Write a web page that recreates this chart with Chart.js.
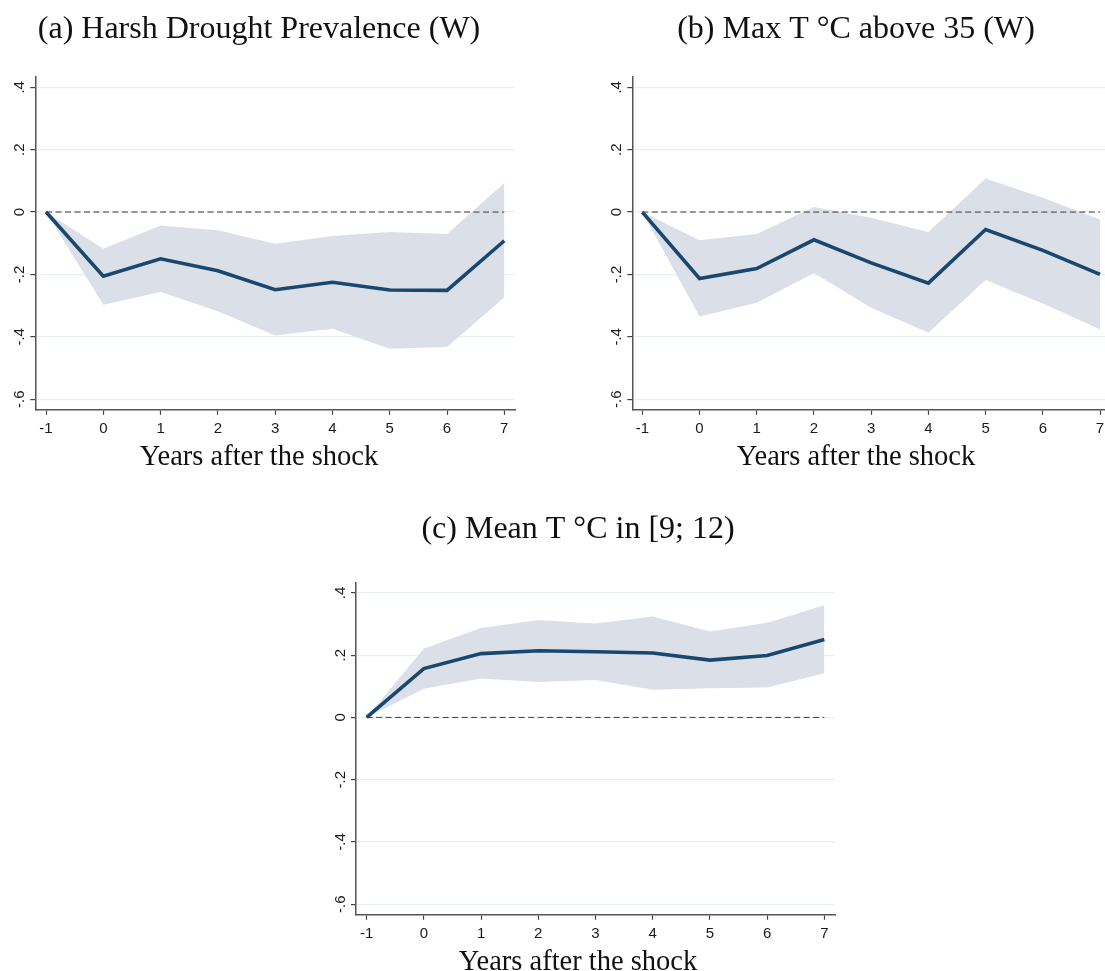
<!DOCTYPE html>
<html>
<head>
<meta charset="utf-8">
<script src="https://cdn.jsdelivr.net/npm/chart.js@4.4.1/dist/chart.umd.min.js"></script>
<style>
html, body { margin: 0; padding: 0; background: #ffffff; overflow: hidden; width: 1105px; height: 971px; }
canvas { position: absolute; }
</style>
</head>
<body>
<canvas id="panelA"></canvas>
<canvas id="panelB"></canvas>
<canvas id="panelC"></canvas>
<script>
// ---------------- data ----------------
const years = [-1, 0, 1, 2, 3, 4, 5, 6, 7];
const xTickLabels = ['-1', '0', '1', '2', '3', '4', '5', '6', '7'];
const yTickValues = [-0.6, -0.4, -0.2, 0, 0.2, 0.4];
const yTickLabels = ['-.6', '-.4', '-.2', '0', '.2', '.4'];
const xAxisTitle = 'Years after the shock';
const referenceLevel = 0;

const titleA = '(a) Harsh Drought Prevalence (W)';
const droughtCoef  = [0, -0.206, -0.150, -0.188, -0.249, -0.225, -0.250, -0.251, -0.092];
const droughtUpper = [0, -0.118, -0.043, -0.058, -0.102, -0.077, -0.064, -0.070,  0.093];
const droughtLower = [0, -0.297, -0.256, -0.318, -0.396, -0.374, -0.438, -0.433, -0.274];

const titleB = '(b) Max T \u00B0C above 35 (W)';
const heatCoef  = [0, -0.213, -0.181, -0.089, -0.163, -0.228, -0.056, -0.123, -0.200];
const heatUpper = [0, -0.090, -0.070,  0.016, -0.018, -0.064,  0.108,  0.046, -0.024];
const heatLower = [0, -0.335, -0.291, -0.195, -0.307, -0.387, -0.218, -0.293, -0.376];

const titleC = '(c) Mean T \u00B0C in [9; 12)';
const meanTCoef  = [0, 0.157, 0.205, 0.214, 0.211, 0.207, 0.184, 0.199, 0.250];
const meanTUpper = [0, 0.221, 0.287, 0.313, 0.302, 0.324, 0.276, 0.304, 0.360];
const meanTLower = [0, 0.092, 0.125, 0.114, 0.120, 0.089, 0.094, 0.096, 0.142];

// ---------------- styles ----------------
const NAVY = '#1a476f';
const BAND = '#dbe0e8';
const GRID = '#e8f0f1';
const AXIS = '#555555';
const TICKC = '#444444';
const TEXT = '#111111';
const SERIF = '"Liberation Serif", "Times New Roman", serif';
const SANS = '"Liberation Sans", Arial, sans-serif';

function pts(values) {
  return years.map((x, i) => ({ x: x, y: values[i] }));
}

function makePanel(id, lay, title, coef, upper, lower) {
  const cv = document.getElementById(id);
  cv.width = lay.w; cv.height = lay.h;
  cv.style.left = lay.left + 'px'; cv.style.top = lay.top + 'px';
  cv.style.width = lay.w + 'px'; cv.style.height = lay.h + 'px';
  return new Chart(cv, {
    type: 'line',
    data: {
      datasets: [
        { label: 'upper', data: pts(upper), borderWidth: 0, pointRadius: 0, fill: '+1', backgroundColor: BAND, borderColor: 'rgba(0,0,0,0)', order: 3 },
        { label: 'lower', data: pts(lower), borderWidth: 0, pointRadius: 0, fill: false, borderColor: 'rgba(0,0,0,0)', order: 3 },
        { label: 'ref', data: years.map(x => ({ x: x, y: referenceLevel })), borderColor: '#3a3a3a', borderWidth: 1, borderDash: [6, 3.5], pointRadius: 0, fill: false, order: 2 },
        { label: 'coef', data: pts(coef), borderColor: NAVY, borderWidth: 3.6, pointRadius: 0, fill: false, order: 1, borderJoinStyle: 'miter' }
      ]
    },
    options: {
      responsive: false,
      animation: false,
      devicePixelRatio: 1,
      events: [],
      layout: { padding: { left: lay.padL, right: lay.padR, top: 0, bottom: 0 } },
      plugins: {
        legend: { display: false },
        tooltip: { enabled: false },
        title: {
          display: true, text: title, color: TEXT,
          font: { family: SERIF, size: 32, weight: 'normal', lineHeight: 1.2 },
          padding: { top: lay.titleTop, bottom: lay.titleBottom }
        },
        subtitle: {
          display: true, position: 'bottom', text: xAxisTitle, color: TEXT,
          font: { family: SERIF, size: 28.5, weight: 'normal', lineHeight: 1.2 },
          padding: { top: lay.subTop, bottom: 0 }
        }
      },
      scales: {
        x: {
          type: 'linear', min: lay.xMin, max: lay.xMax,
          afterBuildTicks: s => { s.ticks = years.map(v => ({ value: v })); },
          afterFit: s => { s.height = 25; s.paddingLeft = 0; s.paddingRight = 0; },
          grid: { display: true, drawOnChartArea: false, drawTicks: true, tickLength: 5, tickColor: TICKC, tickWidth: 1.2 },
          border: { display: true, color: AXIS, width: 1.5 },
          ticks: { padding: 5.2, autoSkip: false, maxRotation: 0, minRotation: 0, color: '#1a1a1a',
                   font: { family: SANS, size: 15 }, callback: (v, i) => xTickLabels[i] }
        },
        y: {
          type: 'linear', min: -0.634, max: 0.434,
          afterBuildTicks: s => { s.ticks = yTickValues.map(v => ({ value: v })); },
          afterFit: s => { s.width = lay.yW; s.paddingTop = 0; s.paddingBottom = 0; },
          grid: { color: GRID, lineWidth: 1.2, drawTicks: true, tickLength: 5, tickColor: TICKC, tickWidth: 1.2 },
          border: { display: true, color: AXIS, width: 1.5 },
          ticks: { padding: 1.5, autoSkip: false, minRotation: 90, maxRotation: 90, crossAlign: 'center', color: '#1a1a1a',
                   font: { family: SANS, size: 15 }, callback: (v, i) => yTickLabels[i] }
        }
      }
    }
  });
}

makePanel('panelA', { left: 0, top: 0, w: 530, h: 475, padL: 3, padR: 15, yW: 32.3,
  xMin: -1.187, xMax: 7.187, titleTop: 10.4, titleBottom: 27.9, subTop: 6.0 },
  titleA, droughtCoef, droughtUpper, droughtLower);

makePanel('panelB', { left: 590, top: 0, w: 515, h: 475, padL: 17, padR: 0, yW: 25.3,
  xMin: -1.175, xMax: 7.087, titleTop: 10.4, titleBottom: 27.9, subTop: 6.0 },
  titleB, heatCoef, heatUpper, heatLower);

makePanel('panelC', { left: 300, top: 490, w: 550, h: 490, padL: 21, padR: 15, yW: 35,
  xMin: -1.186, xMax: 7.186, titleTop: 20.0, titleBottom: 33.9, subTop: 6.0 },
  titleC, meanTCoef, meanTUpper, meanTLower);
</script>
</body>
</html>
